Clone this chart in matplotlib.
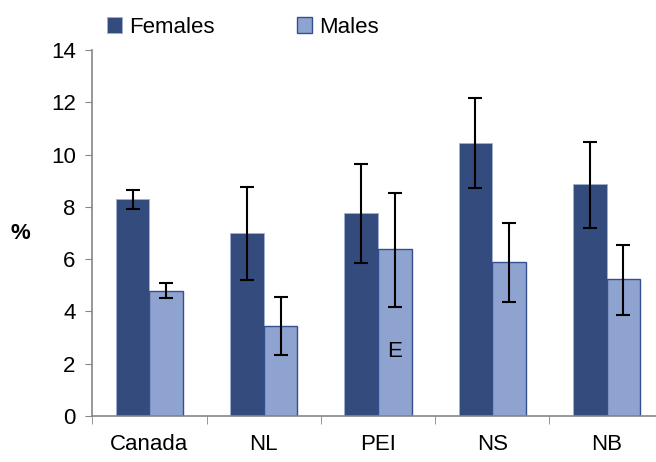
import numpy as np
import matplotlib
matplotlib.use("Agg")
import matplotlib.pyplot as plt

plt.rcParams['font.family'] = ['Liberation Sans', 'DejaVu Sans']

regions = ['Canada', 'NL', 'PEI', 'NS', 'NB']
females = [8.29, 7.00, 7.77, 10.46, 8.87]
females_lo = [7.92, 5.21, 5.86, 8.74, 7.19]
females_hi = [8.63, 8.75, 9.66, 12.15, 10.49]
males = [4.78, 3.44, 6.37, 5.88, 5.26]
males_lo = [4.52, 2.35, 4.17, 4.35, 3.88]
males_hi = [5.08, 4.54, 8.53, 7.40, 6.54]
flags = ['', '', 'E', '', '']

fem_col = '#344B7E'
male_col = '#8FA3D0'
grey = '#868686'

fig = plt.figure(figsize=(6.56, 4.62), dpi=100)
ax = fig.add_axes([0.1407, 0.0996, 0.871, 0.792])

x = np.arange(len(regions))
w = 0.295
f_err = [np.array(females) - np.array(females_lo), np.array(females_hi) - np.array(females)]
m_err = [np.array(males) - np.array(males_lo), np.array(males_hi) - np.array(males)]

ax.bar(x - w / 2, females, w, color=fem_col, edgecolor='#9fb0d4', linewidth=0.6, label='Females')
ax.bar(x + w / 2, males, w, color=male_col, edgecolor='#35508f', linewidth=1.0, label='Males')
ax.errorbar(x - w / 2, females, yerr=f_err, fmt='none', ecolor='black', elinewidth=1.5, capsize=5, capthick=1.5)
ax.errorbar(x + w / 2, males, yerr=m_err, fmt='none', ecolor='black', elinewidth=1.5, capsize=5, capthick=1.5)

for i, fl in enumerate(flags):
    if fl:
        ax.text(x[i] + w / 2, 2.45, fl, ha='center', va='center', fontsize=16)

ax.set_xlim(-0.5, len(regions) - 0.5)
ax.set_ylim(0, 14)
ax.set_yticks(range(0, 15, 2))
ax.set_xticks(x)
ax.set_xticklabels(regions)
ax.set_xticks(np.arange(-0.5, len(regions), 1), minor=True)
ax.tick_params(axis='x', which='major', length=0, pad=13, labelsize=16)
ax.tick_params(axis='x', which='minor', length=6, color=grey, direction='out')
ax.tick_params(axis='y', length=5, color=grey, labelsize=16, pad=7)

for s in ['top', 'right']:
    ax.spines[s].set_visible(False)
for s in ['left', 'bottom']:
    ax.spines[s].set_color(grey)
    ax.spines[s].set_linewidth(1.2)

ax.set_ylabel('%', rotation=0, fontsize=16, fontweight='bold', labelpad=22, va='center')

fig.legend(loc='lower left', bbox_to_anchor=(0.163, 0.918), ncol=2, frameon=False, fontsize=16,
           handlelength=0.7, handleheight=0.7, handletextpad=0.3, columnspacing=3.7,
           borderaxespad=0.0, borderpad=0.0)

fig.savefig('out.png', dpi=100)
